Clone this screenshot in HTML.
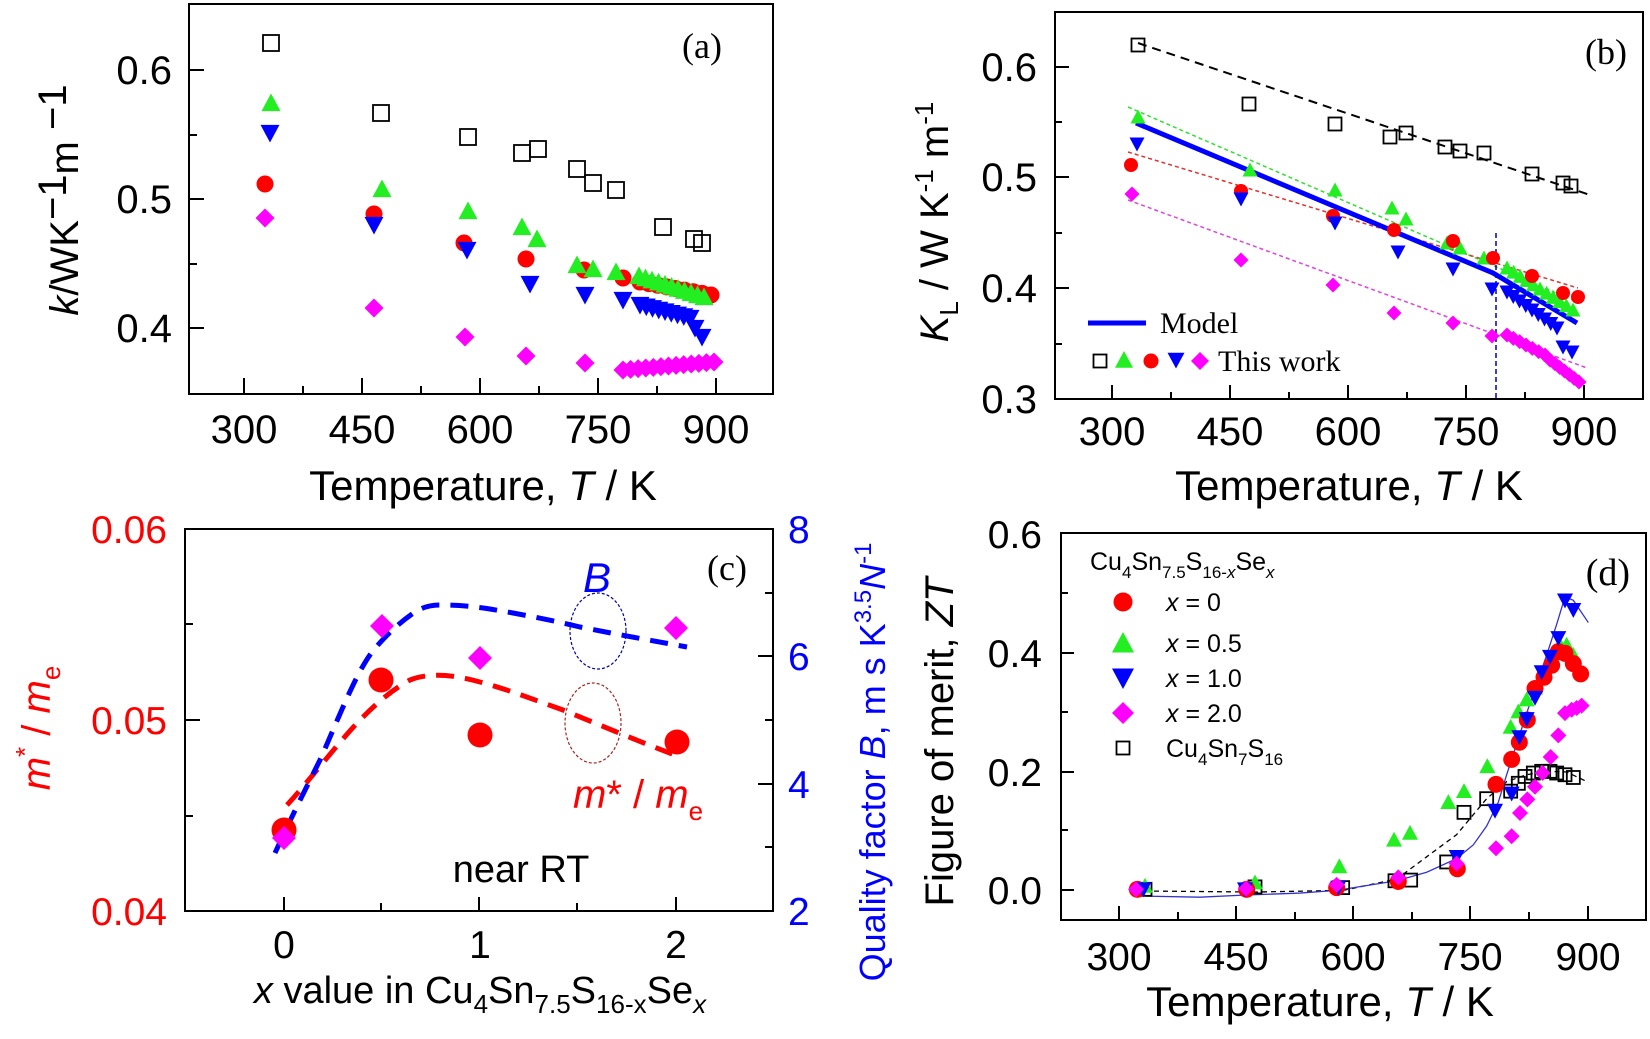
<!DOCTYPE html>
<html><head><meta charset="utf-8"><style>
html,body{margin:0;padding:0;background:#fff;}
svg{display:block;font-family:"Liberation Sans",Arial,sans-serif;}
.serif{font-family:"Liberation Serif",serif;}
</style></head><body>
<svg id="s" width="1650" height="1039" viewBox="0 0 1650 1039" xmlns="http://www.w3.org/2000/svg">
<rect width="1650" height="1039" fill="#fff"/>
<rect x="189" y="4" width="584" height="390" fill="none" stroke="#000" stroke-width="2"/>
<rect x="1055" y="12" width="588" height="387" fill="none" stroke="#000" stroke-width="2"/>
<rect x="185" y="529" width="588" height="382" fill="none" stroke="#000" stroke-width="2"/>
<rect x="1061" y="533" width="585" height="387" fill="none" stroke="#000" stroke-width="2"/>
<g id="g"></g>

<!-- Panel a text -->
<g font-size="40" text-anchor="end">
<text x="172" y="84">0.6</text><text x="172" y="213">0.5</text><text x="172" y="342">0.4</text>
</g>
<g font-size="40" text-anchor="middle">
<text x="244" y="443">300</text><text x="362" y="443">450</text><text x="480" y="443">600</text><text x="598" y="443">750</text><text x="716" y="443">900</text>
<text x="483" y="500" font-size="42">Temperature, <tspan font-style="italic">T</tspan> / K</text>
</g>
<text transform="translate(78,200) rotate(-90)" font-size="40" text-anchor="middle"><tspan font-style="italic">k</tspan>/WK<tspan dy="-12">−1</tspan><tspan dy="12">m</tspan><tspan dy="-12"> −1</tspan></text>
<text x="722" y="58" class="serif" font-size="36" text-anchor="end">(a)</text>

<!-- Panel b text -->
<g font-size="40" text-anchor="end">
<text x="1037" y="81">0.6</text><text x="1037" y="191">0.5</text><text x="1037" y="302">0.4</text><text x="1037" y="413">0.3</text>
</g>
<g font-size="40" text-anchor="middle">
<text x="1112" y="445">300</text><text x="1230" y="445">450</text><text x="1348" y="445">600</text><text x="1466" y="445">750</text><text x="1584" y="445">900</text>
<text x="1349" y="500" font-size="42">Temperature, <tspan font-style="italic">T</tspan> / K</text>
</g>
<text transform="translate(948,222) rotate(-90)" font-size="40" text-anchor="middle"><tspan font-style="italic">K</tspan><tspan font-size="26" dy="10">L</tspan><tspan dy="-10"> / W K</tspan><tspan font-size="26" dy="-15">-1</tspan><tspan dy="15"> m</tspan><tspan font-size="26" dy="-15">-1</tspan></text>
<text x="1627" y="64" class="serif" font-size="36" text-anchor="end">(b)</text>
<line x1="1088" y1="323" x2="1146" y2="323" stroke="#0000ff" stroke-width="5"/>
<text x="1160" y="333" class="serif" font-size="30">Model</text>
<text x="1218" y="371" class="serif" font-size="30">This work</text>

<!-- Panel c text -->
<g font-size="39" text-anchor="end" fill="#ff0000">
<text x="167" y="543">0.06</text><text x="167" y="734">0.05</text><text x="167" y="925">0.04</text>
</g>
<g font-size="39" fill="#0000ff">
<text x="788" y="543">8</text><text x="788" y="670">6</text><text x="788" y="798">4</text><text x="788" y="925">2</text>
</g>
<g font-size="39" text-anchor="middle">
<text x="284" y="958">0</text><text x="480" y="958">1</text><text x="676" y="958">2</text>
</g>
<text x="480" y="1003" font-size="38" text-anchor="middle"><tspan font-style="italic">x</tspan> value in Cu<tspan font-size="26" dy="10">4</tspan><tspan dy="-10">Sn</tspan><tspan font-size="26" dy="10">7.5</tspan><tspan dy="-10">S</tspan><tspan font-size="26" dy="10">16-x</tspan><tspan dy="-10">Se</tspan><tspan font-size="26" dy="10" font-style="italic">x</tspan></text>
<text transform="translate(50,728) rotate(-90)" font-size="40" fill="#ff0000" text-anchor="middle" font-style="italic">m<tspan font-size="26" dy="-16" font-style="normal">*</tspan><tspan dy="16" font-style="normal"> / </tspan>m<tspan font-size="26" dy="10" font-style="normal">e</tspan></text>
<text transform="translate(885,762) rotate(-90)" font-size="36" fill="#0000ff" text-anchor="middle">Quality factor <tspan font-style="italic">B</tspan>, m s K<tspan font-size="24" dy="-14">3.5</tspan><tspan dy="14" font-style="italic">N</tspan><tspan font-size="24" dy="-14">-1</tspan></text>
<text x="727" y="580" class="serif" font-size="36" text-anchor="middle">(c)</text>
<text x="597" y="592" font-size="42" fill="#0000ff" font-style="italic" text-anchor="middle">B</text>
<text x="573" y="808" font-size="40" fill="#ff0000" font-style="italic">m<tspan font-style="normal">* / </tspan>m<tspan font-size="26" dy="12" font-style="normal">e</tspan></text>
<text x="521" y="882" font-size="38" text-anchor="middle">near RT</text>

<!-- Panel d text -->
<g font-size="39" text-anchor="end">
<text x="1042" y="548">0.6</text><text x="1042" y="667">0.4</text><text x="1042" y="786">0.2</text><text x="1042" y="904">0.0</text>
</g>
<g font-size="39" text-anchor="middle">
<text x="1119" y="970">300</text><text x="1236" y="970">450</text><text x="1353" y="970">600</text><text x="1470" y="970">750</text><text x="1588" y="970">900</text>
<text x="1320" y="1016" font-size="42">Temperature, <tspan font-style="italic">T</tspan> / K</text>
</g>
<text transform="translate(953,742) rotate(-90)" font-size="40" text-anchor="middle">Figure of merit, <tspan font-style="italic">ZT</tspan></text>
<text x="1630" y="585" class="serif" font-size="38" text-anchor="end">(d)</text>
<text x="1090" y="570" font-size="25">Cu<tspan font-size="17" dy="8">4</tspan><tspan dy="-8">Sn</tspan><tspan font-size="17" dy="8">7.5</tspan><tspan dy="-8">S</tspan><tspan font-size="17" dy="8">16-<tspan font-style="italic">x</tspan></tspan><tspan dy="-8">Se</tspan><tspan font-size="17" dy="8" font-style="italic">x</tspan></text>
<g font-size="25">
<text x="1166" y="611"><tspan font-style="italic">x</tspan> = 0</text>
<text x="1166" y="652"><tspan font-style="italic">x</tspan> = 0.5</text>
<text x="1166" y="687"><tspan font-style="italic">x</tspan> = 1.0</text>
<text x="1166" y="722"><tspan font-style="italic">x</tspan> = 2.0</text>
<text x="1166" y="757">Cu<tspan font-size="17" dy="8">4</tspan><tspan dy="-8">Sn</tspan><tspan font-size="17" dy="8">7</tspan><tspan dy="-8">S</tspan><tspan font-size="17" dy="8">16</tspan></text>
</g>
</svg>
<script>
var NS="http://www.w3.org/2000/svg",G=document.getElementById("g");
function el(t,a){var e=document.createElementNS(NS,t);for(var k in a)e.setAttribute(k,a[k]);G.appendChild(e);return e;}
var R="#ff0000",GR="#22ee22",B="#0000ff",M="#ff00ff";
function mk(type,x,y,s){
 if(type=="sq")el("rect",{x:x-s/2,y:y-s/2,width:s,height:s,fill:"none",stroke:"#000","stroke-width":1.8});
 else if(type=="c")el("circle",{cx:x,cy:y,r:s/2,fill:R});
 else if(type=="t")el("polygon",{points:(x-s/2)+","+(y+s*0.43)+" "+(x+s/2)+","+(y+s*0.43)+" "+x+","+(y-s*0.5),fill:GR});
 else if(type=="d")el("polygon",{points:(x-s/2)+","+(y-s*0.43)+" "+(x+s/2)+","+(y-s*0.43)+" "+x+","+(y+s*0.5),fill:B});
 else if(type=="m")el("polygon",{points:(x-s/2)+","+y+" "+x+","+(y-s/2)+" "+(x+s/2)+","+y+" "+x+","+(y+s/2),fill:M});
}
function pts(type,arr,s){for(var i=0;i<arr.length;i+=2)mk(type,arr[i],arr[i+1],s);}
function interp(a,b,n){var r=[];for(var i=0;i<=n;i++){r.push(a[0]+(b[0]-a[0])*i/n,a[1]+(b[1]-a[1])*i/n);}return r;}
function ln(x1,y1,x2,y2,c,w,d){var a={x1:x1,y1:y1,x2:x2,y2:y2,stroke:c,"stroke-width":w};if(d)a["stroke-dasharray"]=d;el("line",a);}
function xt(x,yb,len){ln(x,yb,x,yb-len,"#000",2);}
function ytl(xl,y,len){ln(xl,y,xl+len,y,"#000",2);}
// a
[244,362,480,598,716].forEach(function(x){xt(x,394,16)});[303,421,539,657].forEach(function(x){xt(x,394,8)});
[70,199,328].forEach(function(y){ytl(189,y,15)});[135,264].forEach(function(y){ytl(189,y,8)});
// b
[1112,1230,1348,1466,1584].forEach(function(x){xt(x,399,14)});[1171,1289,1407,1525].forEach(function(x){xt(x,399,7)});
[67,177,288].forEach(function(y){ytl(1055,y,14)});[122,233,344].forEach(function(y){ytl(1055,y,7)});
// c
[284,479,676].forEach(function(x){xt(x,911,14)});[381,577].forEach(function(x){xt(x,911,8)});
[720].forEach(function(y){ytl(185,y,15)});[624,816].forEach(function(y){ytl(185,y,8)});
[656,784].forEach(function(y){ln(773,y,758,y,"#000",2)});[593,720,847].forEach(function(y){ln(773,y,765,y,"#000",2)});
// d
[1119,1236,1353,1470,1588].forEach(function(x){xt(x,920,14)});[1178,1295,1412,1529].forEach(function(x){xt(x,920,8)});
[653,772,890].forEach(function(y){ytl(1061,y,13)});[593,712,830].forEach(function(y){ytl(1061,y,7)});

// ===== Panel a data
pts("sq",[271,43,381,113,468,137,522,153,538,149,577,169,593,183,616,190,663,227,694,239,702,243],16);
pts("c",[265,184,374,214,464,243,526,259,584,270,623,278].concat(interp([640,282],[711,295],8)),17);
pts("t",[271,103,382,189,468,211,522,227,537,239,577,265,593,269,616,272].concat(interp([639,276],[704,297],10)),19);
pts("d",[270,133,374,225,467,250,530,284,585,295,623,300].concat(interp([640,305],[690,318],8)).concat([695,328,702,337]),19);
pts("m",[265,218,374,308,465,337,526,356,585,363].concat(interp([623,370],[714,362],12)),19);

// ===== Panel b
ln(1138,43,1590,195,"#000",2,"9 6");
ln(1128,107,1577,302,"#33dd33",1.5,"4 3");
ln(1128,152,1578,288,"#dd3333",1.5,"4 3");
ln(1128,200,1587,368,"#dd44dd",1.5,"4 3");
ln(1496,233,1496,399,"#0000aa",1.5,"5 3");
el("polyline",{points:"1136,123 1493,273 1577,323",fill:"none",stroke:B,"stroke-width":5});
pts("sq",[1138,45,1249,104,1335,124,1390,137,1406,133,1445,147,1460,151,1484,153,1532,174,1563,183,1571,186],13);
pts("t",[1138,117,1250,170,1335,190,1392,208,1406,219,1447,243,1460,248,1484,258].concat(interp([1507,268],[1573,310],10)),15);
pts("c",[1131,165,1241,191,1333,216,1394,230,1453,241,1493,258,1532,276,1563,293,1578,297],14);
pts("d",[1137,144,1241,199,1335,223,1398,252,1453,269,1492,289].concat(interp([1507,292],[1557,328],8)).concat([1563,347,1572,352]),15);
pts("m",[1132,194,1241,260,1333,285,1394,313,1453,323,1492,336].concat(interp([1507,335],[1545,355],6)).concat(interp([1550,360],[1579,382],6)),15);
mk("sq",1100,361,13);mk("t",1124,360,18);mk("c",1151,361,15);mk("d",1176,360,17);mk("m",1200,361,18);

// ===== Panel c
el("ellipse",{cx:598,cy:631,rx:28,ry:38,fill:"none",stroke:"#0000aa","stroke-width":1.2,"stroke-dasharray":"3 2"});
el("ellipse",{cx:593,cy:723,rx:28,ry:40,fill:"none",stroke:"#aa2222","stroke-width":1.2,"stroke-dasharray":"3 2"});
el("path",{d:"M287,805 C310,780 340,740 363,717 C380,700 395,688 410,680 C430,672 455,675 480,682 C510,690 540,702 563,710 C600,725 640,742 680,757",fill:"none",stroke:R,"stroke-width":5,"stroke-dasharray":"18 11"});
el("path",{d:"M275,853 C290,820 305,790 320,760 C340,715 355,675 372,652 C385,636 400,622 415,612 C425,606 432,605 440,605 C470,605 490,609 513,613 C540,618 560,622 580,627 C620,635 660,642 687,647",fill:"none",stroke:B,"stroke-width":5,"stroke-dasharray":"18 11"});
pts("c",[284,830,381,680,480,735,677,742],25);
pts("m",[284,838,382,626,480,658,676,628],24);

// ===== Panel d
function ny(y){return 890-(879-y)*1.026;}
function dz(a){var r=[];for(var i=0;i<a.length;i+=2){r.push(1240+a[i]/3,ny(500+a[i+1]/3));}return r;}
function d7(a){var r=[];for(var i=0;i<a.length;i+=2){r.push(900+a[i]/3,ny(500+a[i+1]/3));}return r;}
function pth(a){var s="M"+a[0]+","+a[1];for(var i=2;i<a.length;i+=2)s+=" L"+a[i]+","+a[i+1];return s;}
el("path",{d:pth(d7([735,1140,1065,1143,1330,1138]).concat(dz([470,1105,560,1040,650,975,740,870,800,820,860,800,920,790,980,792,1045,822]))),fill:"none",stroke:"#000","stroke-width":1.3,"stroke-dasharray":"5 4"});
el("path",{d:pth(d7([735,1155,900,1158,1030,1152,1200,1146,1310,1138]).concat(dz([470,1110,560,1085,650,1045,700,1005,740,950,775,880,800,800,830,710,860,620,890,535,920,450,950,360,975,280,1000,290,1045,355]))),fill:"none",stroke:"#3333cc","stroke-width":1.3});
pts("sq",d7([735,1135,1065,1128,1328,1130]).concat(dz([465,1110,512,1108,620,1055,672,910,740,870,812,848,835,825,855,805,880,795,905,790,930,790,950,795,975,800,1000,808])),13);
pts("t",d7([735,1125,1065,1115,1318,1068]).concat(dz([462,990,510,970,625,880,672,848,742,775,812,660,835,615,860,580,885,545,910,510,935,470,960,420,980,420,1000,450])),16);
pts("c",d7([712,1135,1040,1135,1310,1130]).concat(dz([475,1112,652,1075,768,828,815,755,838,705,862,640,885,548,912,515,935,480,955,440,975,445,1000,475,1022,505])),17);
pts("d",d7([730,1135,1035,1135,1315,1130]).concat(dz([650,1040,765,905,815,855,838,690,860,637,885,575,905,500,930,455,955,400,975,290,1000,318])),16);
pts("m",d7([708,1135,1038,1133,1310,1122]).concat(dz([475,1100,650,1060,768,1015,815,980,840,912,862,872,885,835,908,795,932,748,955,685,975,620,995,610,1010,605,1025,598])),16);
mk("c",1123,602,19);mk("t",1123,643,22);mk("d",1123,678,22);mk("m",1123,713,22);mk("sq",1123,748,13);
</script>
</body></html>
